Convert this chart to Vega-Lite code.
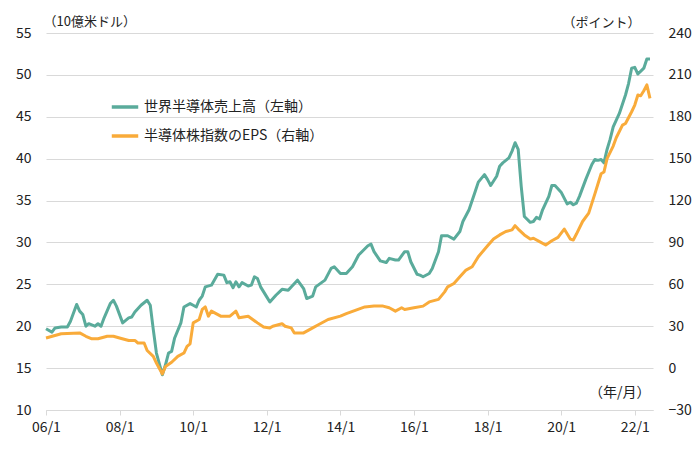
{
  "$schema": "https://vega.github.io/schema/vega-lite/v6.json",
  "width": 607,
  "height": 377,
  "autosize": {"type": "none"},
  "padding": {"left": 46, "top": 33, "right": 46, "bottom": 44},
  "background": "white",
  "config": {
    "font": "Noto Sans CJK JP",
    "view": {"stroke": null},
    "axis": {"labelFont": "Noto Sans CJK JP", "titleFont": "Noto Sans CJK JP", "labelColor": "#222", "titleColor": "#222", "labelFontSize": 14, "titleFontSize": 13, "titleFontWeight": "normal"}
  },
  "datasets": {
    "sales": [
      {"date": "2006-01", "v": 19.7}, {"date": "2006-03", "v": 19.3}, {"date": "2006-04", "v": 19.8}, {"date": "2006-06", "v": 19.9},
      {"date": "2006-08", "v": 19.9}, {"date": "2006-09", "v": 20.6}, {"date": "2006-11", "v": 22.6}, {"date": "2006-12", "v": 21.8},
      {"date": "2007-01", "v": 21.4}, {"date": "2007-02", "v": 20.0}, {"date": "2007-03", "v": 20.3}, {"date": "2007-05", "v": 20.0},
      {"date": "2007-06", "v": 20.3}, {"date": "2007-07", "v": 20.0}, {"date": "2007-08", "v": 21.0}, {"date": "2007-10", "v": 22.7},
      {"date": "2007-11", "v": 23.1}, {"date": "2007-12", "v": 22.4}, {"date": "2008-02", "v": 20.4}, {"date": "2008-04", "v": 21.0},
      {"date": "2008-05", "v": 21.1}, {"date": "2008-06", "v": 21.7}, {"date": "2008-08", "v": 22.5}, {"date": "2008-10", "v": 23.1},
      {"date": "2008-11", "v": 22.5}, {"date": "2008-12", "v": 19.6}, {"date": "2009-01", "v": 16.8}, {"date": "2009-03", "v": 14.2},
      {"date": "2009-04", "v": 15.4}, {"date": "2009-05", "v": 16.8}, {"date": "2009-06", "v": 17.0}, {"date": "2009-07", "v": 18.6},
      {"date": "2009-09", "v": 20.4}, {"date": "2009-10", "v": 22.3}, {"date": "2009-12", "v": 22.7}, {"date": "2010-01", "v": 22.5},
      {"date": "2010-02", "v": 22.3}, {"date": "2010-03", "v": 23.1}, {"date": "2010-04", "v": 23.6}, {"date": "2010-05", "v": 24.7},
      {"date": "2010-07", "v": 24.9}, {"date": "2010-09", "v": 26.2}, {"date": "2010-11", "v": 26.1}, {"date": "2010-12", "v": 25.2},
      {"date": "2011-01", "v": 25.3}, {"date": "2011-02", "v": 24.6}, {"date": "2011-03", "v": 25.3}, {"date": "2011-04", "v": 24.7},
      {"date": "2011-05", "v": 25.2}, {"date": "2011-07", "v": 24.8}, {"date": "2011-08", "v": 24.9}, {"date": "2011-09", "v": 25.9},
      {"date": "2011-10", "v": 25.7}, {"date": "2011-11", "v": 24.7}, {"date": "2012-01", "v": 23.5}, {"date": "2012-02", "v": 22.9},
      {"date": "2012-04", "v": 23.7}, {"date": "2012-06", "v": 24.4}, {"date": "2012-08", "v": 24.3}, {"date": "2012-11", "v": 25.5},
      {"date": "2013-01", "v": 24.5}, {"date": "2013-02", "v": 23.3}, {"date": "2013-04", "v": 23.6}, {"date": "2013-05", "v": 24.7},
      {"date": "2013-08", "v": 25.5}, {"date": "2013-10", "v": 26.9}, {"date": "2013-11", "v": 27.1}, {"date": "2014-01", "v": 26.3},
      {"date": "2014-03", "v": 26.3}, {"date": "2014-05", "v": 27.1}, {"date": "2014-07", "v": 28.5}, {"date": "2014-10", "v": 29.6},
      {"date": "2014-11", "v": 29.8}, {"date": "2014-12", "v": 28.9}, {"date": "2015-02", "v": 27.8}, {"date": "2015-04", "v": 27.6},
      {"date": "2015-05", "v": 28.1}, {"date": "2015-07", "v": 27.9}, {"date": "2015-08", "v": 27.9}, {"date": "2015-10", "v": 28.9},
      {"date": "2015-11", "v": 28.9}, {"date": "2015-12", "v": 27.7}, {"date": "2016-02", "v": 26.2}, {"date": "2016-03", "v": 26.1},
      {"date": "2016-04", "v": 25.9}, {"date": "2016-06", "v": 26.3}, {"date": "2016-07", "v": 26.9}, {"date": "2016-09", "v": 28.9},
      {"date": "2016-10", "v": 30.8}, {"date": "2016-12", "v": 30.8}, {"date": "2017-02", "v": 30.4}, {"date": "2017-04", "v": 31.3},
      {"date": "2017-05", "v": 32.5}, {"date": "2017-07", "v": 33.9}, {"date": "2017-09", "v": 36.1}, {"date": "2017-10", "v": 37.2},
      {"date": "2017-12", "v": 38.1}, {"date": "2018-01", "v": 37.5}, {"date": "2018-02", "v": 36.8}, {"date": "2018-04", "v": 37.9},
      {"date": "2018-05", "v": 39.1}, {"date": "2018-06", "v": 39.5}, {"date": "2018-08", "v": 40.1}, {"date": "2018-09", "v": 40.9},
      {"date": "2018-10", "v": 41.9}, {"date": "2018-11", "v": 41.1}, {"date": "2018-12", "v": 36.7}, {"date": "2019-01", "v": 33.1},
      {"date": "2019-03", "v": 32.4}, {"date": "2019-04", "v": 32.5}, {"date": "2019-05", "v": 33.0}, {"date": "2019-06", "v": 32.8},
      {"date": "2019-07", "v": 33.9}, {"date": "2019-09", "v": 35.5}, {"date": "2019-10", "v": 36.8}, {"date": "2019-11", "v": 36.8},
      {"date": "2020-01", "v": 36.0}, {"date": "2020-03", "v": 34.6}, {"date": "2020-04", "v": 34.8}, {"date": "2020-05", "v": 34.5},
      {"date": "2020-06", "v": 34.7}, {"date": "2020-07", "v": 35.5}, {"date": "2020-09", "v": 37.5}, {"date": "2020-11", "v": 39.3},
      {"date": "2020-12", "v": 39.9}, {"date": "2021-01", "v": 39.8}, {"date": "2021-02", "v": 39.9}, {"date": "2021-03", "v": 39.5},
      {"date": "2021-04", "v": 41.1}, {"date": "2021-05", "v": 42.3}, {"date": "2021-06", "v": 43.8}, {"date": "2021-08", "v": 45.4},
      {"date": "2021-10", "v": 47.6}, {"date": "2021-11", "v": 49.0}, {"date": "2021-12", "v": 50.8}, {"date": "2022-01", "v": 50.9},
      {"date": "2022-02", "v": 50.1}, {"date": "2022-04", "v": 50.8}, {"date": "2022-05", "v": 51.9}, {"date": "2022-06", "v": 51.9}
    ],
    "eps": [
      {"date": "2006-01", "v": 21.6}, {"date": "2006-06", "v": 24.6}, {"date": "2006-12", "v": 25.2}, {"date": "2007-02", "v": 22.8},
      {"date": "2007-04", "v": 21.0}, {"date": "2007-06", "v": 21.0}, {"date": "2007-09", "v": 22.8}, {"date": "2007-11", "v": 22.8},
      {"date": "2008-01", "v": 21.6}, {"date": "2008-04", "v": 19.8}, {"date": "2008-06", "v": 19.8}, {"date": "2008-07", "v": 18.0},
      {"date": "2008-09", "v": 18.0}, {"date": "2008-10", "v": 12.6}, {"date": "2008-12", "v": 8.4}, {"date": "2009-01", "v": 3.6},
      {"date": "2009-03", "v": -4.2}, {"date": "2009-04", "v": 1.2}, {"date": "2009-06", "v": 4.2}, {"date": "2009-08", "v": 8.4},
      {"date": "2009-10", "v": 10.8}, {"date": "2009-11", "v": 15.6}, {"date": "2009-12", "v": 17.4}, {"date": "2010-01", "v": 32.4},
      {"date": "2010-03", "v": 34.8}, {"date": "2010-04", "v": 42.0}, {"date": "2010-05", "v": 43.8}, {"date": "2010-06", "v": 37.2},
      {"date": "2010-07", "v": 40.8}, {"date": "2010-10", "v": 37.2}, {"date": "2011-01", "v": 37.2}, {"date": "2011-03", "v": 40.8},
      {"date": "2011-04", "v": 36.0}, {"date": "2011-07", "v": 37.2}, {"date": "2011-10", "v": 32.4}, {"date": "2011-12", "v": 29.4},
      {"date": "2012-02", "v": 28.8}, {"date": "2012-03", "v": 30.0}, {"date": "2012-06", "v": 31.8}, {"date": "2012-07", "v": 30.0},
      {"date": "2012-09", "v": 28.8}, {"date": "2012-10", "v": 25.2}, {"date": "2013-01", "v": 25.2}, {"date": "2013-04", "v": 28.8},
      {"date": "2013-06", "v": 31.2}, {"date": "2013-09", "v": 34.8}, {"date": "2014-01", "v": 37.2}, {"date": "2014-03", "v": 39.0},
      {"date": "2014-09", "v": 43.8}, {"date": "2014-12", "v": 44.4}, {"date": "2015-03", "v": 44.4}, {"date": "2015-05", "v": 43.2},
      {"date": "2015-07", "v": 40.8}, {"date": "2015-09", "v": 43.2}, {"date": "2015-10", "v": 42.0}, {"date": "2016-01", "v": 43.2},
      {"date": "2016-04", "v": 44.4}, {"date": "2016-06", "v": 47.4}, {"date": "2016-09", "v": 49.2}, {"date": "2016-11", "v": 54.6},
      {"date": "2016-12", "v": 58.2}, {"date": "2017-02", "v": 60.6}, {"date": "2017-04", "v": 65.4}, {"date": "2017-06", "v": 70.2},
      {"date": "2017-08", "v": 72.6}, {"date": "2017-10", "v": 79.8}, {"date": "2018-01", "v": 87.6}, {"date": "2018-03", "v": 92.4},
      {"date": "2018-05", "v": 95.4}, {"date": "2018-07", "v": 97.8}, {"date": "2018-09", "v": 99.0}, {"date": "2018-10", "v": 102.0},
      {"date": "2018-11", "v": 99.6}, {"date": "2019-01", "v": 95.4}, {"date": "2019-03", "v": 92.4}, {"date": "2019-04", "v": 93.0},
      {"date": "2019-06", "v": 90.6}, {"date": "2019-08", "v": 88.2}, {"date": "2019-10", "v": 91.2}, {"date": "2019-12", "v": 93.6},
      {"date": "2020-02", "v": 99.6}, {"date": "2020-04", "v": 92.4}, {"date": "2020-05", "v": 91.8}, {"date": "2020-06", "v": 96.0},
      {"date": "2020-08", "v": 105.0}, {"date": "2020-10", "v": 111.0}, {"date": "2020-12", "v": 124.8}, {"date": "2021-01", "v": 132.0},
      {"date": "2021-02", "v": 139.2}, {"date": "2021-03", "v": 140.4}, {"date": "2021-04", "v": 150.0}, {"date": "2021-06", "v": 159.0},
      {"date": "2021-07", "v": 165.0}, {"date": "2021-09", "v": 174.0}, {"date": "2021-10", "v": 175.2}, {"date": "2021-12", "v": 183.6},
      {"date": "2022-01", "v": 188.4}, {"date": "2022-02", "v": 195.6}, {"date": "2022-03", "v": 195.0}, {"date": "2022-04", "v": 198.6},
      {"date": "2022-05", "v": 202.8}, {"date": "2022-06", "v": 193.2}
    ]
  },
  "layer": [
    {
      "data": {"name": "sales"},
      "mark": {"type": "line", "strokeWidth": 3, "strokeJoin": "round"},
      "encoding": {
        "x": {
          "field": "date", "type": "temporal",
          "scale": {"type": "utc", "domain": [{"year": 2006, "month": 1, "date": 1, "utc": true}, {"year": 2022, "month": 7, "date": 1, "utc": true}]},
          "axis": {
            "values": [
              {"year": 2006, "month": 1, "date": 1, "utc": true}, {"year": 2008, "month": 1, "date": 1, "utc": true},
              {"year": 2010, "month": 1, "date": 1, "utc": true}, {"year": 2012, "month": 1, "date": 1, "utc": true},
              {"year": 2014, "month": 1, "date": 1, "utc": true}, {"year": 2016, "month": 1, "date": 1, "utc": true},
              {"year": 2018, "month": 1, "date": 1, "utc": true}, {"year": 2020, "month": 1, "date": 1, "utc": true},
              {"year": 2022, "month": 1, "date": 1, "utc": true}
            ],
            "labelExpr": "utcFormat(datum.value, '%y/%-m')",
            "grid": false, "domainColor": "#d9d9d9", "tickColor": "#d9d9d9", "tickSize": 5, "labelPadding": 5,
            "labelFlush": false, "labelOverlap": false,
            "title": "（年/月）", "titleAngle": 0, "titleAlign": "right", "titleBaseline": "middle",
            "titleX": 604, "titleY": -18, "titleFontSize": 14
          }
        },
        "y": {
          "field": "v", "type": "quantitative",
          "scale": {"domain": [10, 55], "nice": false, "zero": false},
          "axis": {
            "values": [10, 15, 20, 25, 30, 35, 40, 45, 50, 55],
            "grid": true, "gridColor": "#d9d9d9", "domain": false, "ticks": false, "labelPadding": 15,
            "title": "（10億米ドル）", "titleAngle": 0, "titleAlign": "left", "titleBaseline": "middle",
            "titleX": -3, "titleY": -12
          }
        },
        "color": {
          "datum": "世界半導体売上高（左軸）",
          "scale": {"domain": ["世界半導体売上高（左軸）", "半導体株指数のEPS（右軸）"], "range": ["#5aab9b", "#f9ab3a"]},
          "legend": {
            "orient": "none", "legendX": 64, "legendY": 59, "title": null,
            "symbolType": "stroke", "symbolSize": 700, "symbolStrokeWidth": 3.5,
            "labelFontSize": 14, "labelColor": "#222", "labelFont": "Noto Sans CJK JP", "labelOffset": 4, "labelLimit": 400, "rowPadding": 7
          }
        }
      }
    },
    {
      "data": {"name": "eps"},
      "mark": {"type": "line", "strokeWidth": 3, "strokeJoin": "round"},
      "encoding": {
        "x": {"field": "date", "type": "temporal"},
        "y": {
          "field": "v", "type": "quantitative",
          "scale": {"domain": [-30, 240], "nice": false, "zero": false},
          "axis": {
            "orient": "right",
            "values": [-30, 0, 30, 60, 90, 120, 150, 180, 210, 240],
            "grid": false, "domain": false, "ticks": false, "labelPadding": 15,
            "title": "（ポイント）", "titleAngle": 0, "titleAlign": "right", "titleBaseline": "middle",
            "titleX": -13, "titleY": -11
          }
        },
        "color": {"datum": "半導体株指数のEPS（右軸）"}
      }
    }
  ],
  "resolve": {"scale": {"y": "independent"}}
}
